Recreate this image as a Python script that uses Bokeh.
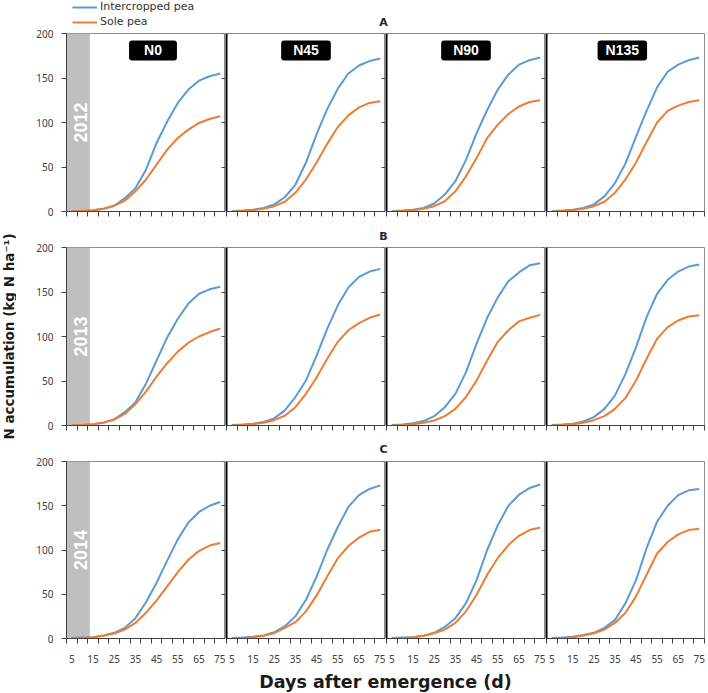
from math import pi
from bokeh.plotting import figure
from bokeh.models import Range1d, FixedTicker, LinearAxis, BoxAnnotation, Label, Legend, LegendItem
from bokeh.layouts import column, row
from bokeh.embed import file_html
from bokeh.resources import INLINE

# ---------------- data ----------------
days = [5, 10, 15, 20, 25, 30, 35, 40, 45, 50, 55, 60, 65, 70, 75]
x_label_days = [5, 15, 25, 35, 45, 55, 65, 75]
y_ticks = [0, 50, 100, 150, 200]
years = ["2012", "2013", "2014"]
treatments = ["N0", "N45", "N90", "N135"]
row_letters = ["A", "B", "C"]
series_names = ["Intercropped pea", "Sole pea"]

ic_2012_N0 = [0, 0.5, 1.5, 3, 6.5, 15, 26, 47, 77, 101, 122, 137, 147, 152, 155]
sole_2012_N0 = [0, 0.5, 1.5, 3, 6.5, 12, 22.7, 36, 52.6, 69.5, 82.6, 92, 99.5, 104, 107]
ic_2012_N45 = [0.5, 1, 2, 4, 8, 16, 30, 55, 87, 115, 138, 155, 164, 169, 172]
sole_2012_N45 = [0, 0.5, 1.5, 3, 6, 11, 21, 36, 55, 76, 95, 108, 117, 122, 124]
ic_2012_N90 = [0.5, 1, 2, 4, 9, 19, 34, 58, 88, 114, 137, 154, 165, 170, 173]
sole_2012_N90 = [0, 0.5, 1.5, 3, 6, 11.5, 22.7, 39.5, 60, 82.6, 97.6, 109.5, 118, 123, 125]
ic_2012_N135 = [0.5, 1, 2, 4, 8, 17, 32, 54, 84, 113, 139.5, 157, 165, 170, 173]
sole_2012_N135 = [0, 0.5, 1.5, 3, 6, 11, 21, 36, 55, 78, 100, 113, 119, 123, 125]

ic_2013_N0 = [0, 0.5, 1.5, 3, 7, 15, 26, 47, 73, 99, 120, 137, 148, 153, 156]
sole_2013_N0 = [0, 0.5, 1.5, 3.5, 6.5, 13, 24, 38, 55, 70, 83, 93, 100, 105, 109]
ic_2013_N45 = [0.5, 1, 2, 4, 8, 17, 32, 50.6, 78.6, 108.6, 135, 155, 167, 173, 176]
sole_2013_N45 = [0, 0.5, 1.5, 3, 6, 11, 20.6, 35.6, 54, 75, 94, 107, 115, 121, 124.7]
ic_2013_N90 = [0.5, 1, 2.5, 5, 10.5, 20.6, 35.6, 60, 92, 121, 144, 162, 172, 180, 182.4]
sole_2013_N90 = [0, 0.5, 1.5, 3, 5.6, 10.5, 18.7, 32, 50.6, 73, 94, 107, 117, 121, 124.3]
ic_2013_N135 = [0.5, 1, 2, 4.5, 9.4, 18.7, 33.7, 58, 88, 121.7, 148, 163.7, 173, 178.6, 181]
sole_2013_N135 = [0, 0.5, 1.5, 3, 6, 10.5, 18.7, 31, 50.6, 75, 97.4, 110.5, 118, 122.5, 124]

ic_2014_N0 = [0.5, 1, 1.5, 3.5, 6.4, 12, 23, 41, 63, 88, 112, 131, 143, 150, 154.3]
sole_2014_N0 = [0.5, 1, 1.5, 3, 5.6, 10, 17.6, 29, 43, 59, 75, 89, 99, 105, 108]
ic_2014_N45 = [0.5, 1, 2, 3.5, 7, 13.9, 25, 43.8, 70, 100, 126, 148.7, 162, 169, 173]
sole_2014_N45 = [0.5, 0.5, 1.5, 3, 6, 12, 18.4, 30.7, 48.7, 70, 90.6, 104.5, 114, 120.6, 123]
ic_2014_N90 = [0.5, 1, 1.5, 3, 6.4, 13, 23, 40, 66, 100, 128, 150, 162.5, 170, 174]
sole_2014_N90 = [0, 0.5, 1.5, 3, 6, 10, 17.6, 30.7, 49.4, 72, 91, 105.6, 116, 122.5, 125.5]
ic_2014_N135 = [0.5, 1, 2, 4, 6.4, 12, 21, 40, 66, 102, 132, 150, 162, 167.4, 169]
sole_2014_N135 = [0, 0.5, 1.5, 3.5, 6, 10, 17.6, 29, 47.6, 72, 96, 109, 117.6, 122.5, 124]

intercropped = {
    "2012": [ic_2012_N0, ic_2012_N45, ic_2012_N90, ic_2012_N135],
    "2013": [ic_2013_N0, ic_2013_N45, ic_2013_N90, ic_2013_N135],
    "2014": [ic_2014_N0, ic_2014_N45, ic_2014_N90, ic_2014_N135],
}
sole = {
    "2012": [sole_2012_N0, sole_2012_N45, sole_2012_N90, sole_2012_N135],
    "2013": [sole_2013_N0, sole_2013_N45, sole_2013_N90, sole_2013_N135],
    "2014": [sole_2014_N0, sole_2014_N45, sole_2014_N90, sole_2014_N135],
}

# ---------------- style / layout ----------------
BLUE = "#5b9bd5"
ORANGE = "#ed7d31"
AXC = "#404040"
BAND_END = 13.5
YTITLE_W = 16
FRAME_W = [159, 159, 159, 158]
LEFT_B = [50, 1, 1, 1]
RIGHT_B = [0, 0, 0, 1]
FRAME_H = 178
TOP_B = [5, 5, 5]
BOTTOM_B = [14, 14, 26]
HEADER_H = 28
STRIP_H = [17, 17]
XTITLE_H = 27
N_LABEL_X = [43.3, 40.0, 40.0, 38.5]
N_PAD = [15, 12, 12, 8]

boundaries = [d - 2.5 for d in days] + [days[-1] + 2.5]
x_lo, x_hi = boundaries[0], boundaries[-1]

total_w = YTITLE_W + sum(LEFT_B) + sum(FRAME_W) + sum(RIGHT_B)
grid_w = total_w - YTITLE_W


def strip(w, h):
    s = figure(width=w, height=h, x_range=Range1d(0, w), y_range=Range1d(0, h),
               output_backend="svg", toolbar_location=None, min_border=0,
               x_axis_type=None, y_axis_type=None)
    s.outline_line_color = None
    return s


def letter(x, y, t):
    return Label(x=x, y=y, text=t, text_align="center", text_baseline="middle",
                 text_font="DejaVu Sans", text_font_style="bold",
                 text_font_size="11px", text_color="#262626")


# header: legend + panel letter A (legend renderers carry the first panel's series,
# hidden, so that the legend can show their line styles)
header = strip(total_w, HEADER_H)
lb = header.line(days, intercropped["2012"][0], line_color=BLUE, line_width=2, visible=False)
lo = header.line(days, sole["2012"][0], line_color=ORANGE, line_width=2, visible=False)
legend = Legend(items=[LegendItem(label=series_names[0], renderers=[lb]),
                       LegendItem(label=series_names[1], renderers=[lo])],
                location=(72, 0), orientation="vertical", click_policy="none",
                glyph_width=25, glyph_height=12, label_height=12,
                spacing=2, padding=0, margin=0, label_standoff=3,
                border_line_color=None, background_fill_alpha=0,
                label_text_font="DejaVu Sans", label_text_font_size="11px",
                label_text_color="#333333")
header.add_layout(legend)
header.add_layout(letter(383, 6.5, row_letters[0]))

strips = []
for k, h in enumerate(STRIP_H):
    s = strip(grid_w, h)
    s.add_layout(letter(383 - YTITLE_W, 6.5 + k, row_letters[k + 1]))
    strips.append(s)

rows = []
for r, yr in enumerate(years):
    figs = []
    for c, trt in enumerate(treatments):
        p = figure(width=LEFT_B[c] + FRAME_W[c] + RIGHT_B[c],
                   height=TOP_B[r] + FRAME_H + BOTTOM_B[r],
                   x_range=Range1d(x_lo, x_hi), y_range=Range1d(0, 200),
                   output_backend="svg", toolbar_location=None,
                   min_border_left=LEFT_B[c], min_border_right=RIGHT_B[c],
                   min_border_top=TOP_B[r], min_border_bottom=BOTTOM_B[r])
        p.grid.visible = False
        p.outline_line_color = "#8c8c8c"
        p.outline_line_width = 1

        # x axis: ticks at category boundaries, labels centred in categories
        xa = p.xaxis[0]
        xa.axis_line_color = AXC
        xa.major_tick_in = 0
        xa.major_tick_out = 0
        xa.minor_tick_in = 0
        xa.minor_tick_out = 5
        xa.minor_tick_line_color = AXC
        if r == 2:
            xa.ticker = FixedTicker(ticks=x_label_days, minor_ticks=boundaries)
            xa.major_label_text_font = "Noto Sans"
            xa.major_label_text_font_size = "10px"
            xa.major_label_text_color = AXC
            xa.major_label_standoff = 11
        else:
            xa.ticker = FixedTicker(ticks=[], minor_ticks=boundaries)

        ya = p.yaxis[0]
        ya.major_tick_in = 0
        ya.minor_tick_in = 0
        ya.minor_tick_out = 0
        if c == 0:
            ya.ticker = FixedTicker(ticks=y_ticks)
            ya.axis_line_color = AXC
            ya.major_tick_line_color = AXC
            ya.major_tick_out = 5
            ya.major_label_text_font = "Noto Sans"
            ya.major_label_text_font_size = "10px"
            ya.major_label_text_color = AXC
            ya.major_label_standoff = 8
        else:
            ya.ticker = FixedTicker(ticks=[])
            ya.major_tick_out = 0
            ya.axis_line_color = "black"
            ya.axis_line_width = 2
        if c < 3:
            ra = LinearAxis(fixed_location=x_hi, ticker=FixedTicker(ticks=y_ticks),
                            major_tick_in=4, major_tick_out=0,
                            minor_tick_in=0, minor_tick_out=0,
                            axis_line_color=None, major_tick_line_color=AXC,
                            major_label_text_alpha=0)
            p.add_layout(ra, "right")

        if c == 0:
            p.add_layout(BoxAnnotation(right=BAND_END, fill_color="#bfbfbf", fill_alpha=1.0,
                                       line_color=None, level="underlay"))
            p.add_layout(Label(x=9.0, y=100, text=yr, angle=pi / 2,
                               text_align="center", text_baseline="middle",
                               text_color="white", text_font="Liberation Sans",
                               text_font_style="bold", text_font_size="18px"))

        p.line(days, intercropped[yr][c], line_color=BLUE, line_width=2)
        p.line(days, sole[yr][c], line_color=ORANGE, line_width=2)

        if r == 0:
            pad = dict(left=N_PAD[c], right=N_PAD[c], top=2, bottom=2)
            p.add_layout(Label(x=N_LABEL_X[c], y=181, text=trt, x_offset=2, y_offset=-2,
                               text_align="center", text_baseline="middle",
                               text_alpha=0, text_font="Liberation Sans",
                               text_font_style="bold", text_font_size="14px",
                               background_fill_color="#000000", background_fill_alpha=0.3,
                               padding=pad, border_radius=3))
            p.add_layout(Label(x=N_LABEL_X[c], y=181, text=trt,
                               text_align="center", text_baseline="middle",
                               text_color="white", text_font="Liberation Sans",
                               text_font_style="bold", text_font_size="14px",
                               background_fill_color="black", background_fill_alpha=1.0,
                               padding=pad, border_radius=3))
        figs.append(p)
    rows.append(row(*figs))

grid = column(rows[0], strips[0], rows[1], strips[1], rows[2])
grid_h = sum(TOP_B) + 3 * FRAME_H + sum(BOTTOM_B) + sum(STRIP_H)

ytitle = strip(YTITLE_W, grid_h)
ytitle.add_layout(Label(x=YTITLE_W / 2, y=HEADER_H + grid_h - 336,
                        text="N accumulation (kg N ha\u207b\u00b9)",
                        angle=pi / 2, text_align="center", text_baseline="middle",
                        text_font="DejaVu Sans", text_font_style="bold",
                        text_font_size="13.5px", text_color="#1a1a1a"))

xtitle = strip(total_w, XTITLE_H)
xtitle.add_layout(Label(x=385, y=11, text="Days after emergence (d)",
                        text_align="center", text_baseline="middle",
                        text_font="DejaVu Sans", text_font_style="bold",
                        text_font_size="17.5px", text_color="#1a1a1a"))

layout = column(header, row(ytitle, grid), xtitle)

open("out.html", "w").write(file_html(layout, INLINE))
